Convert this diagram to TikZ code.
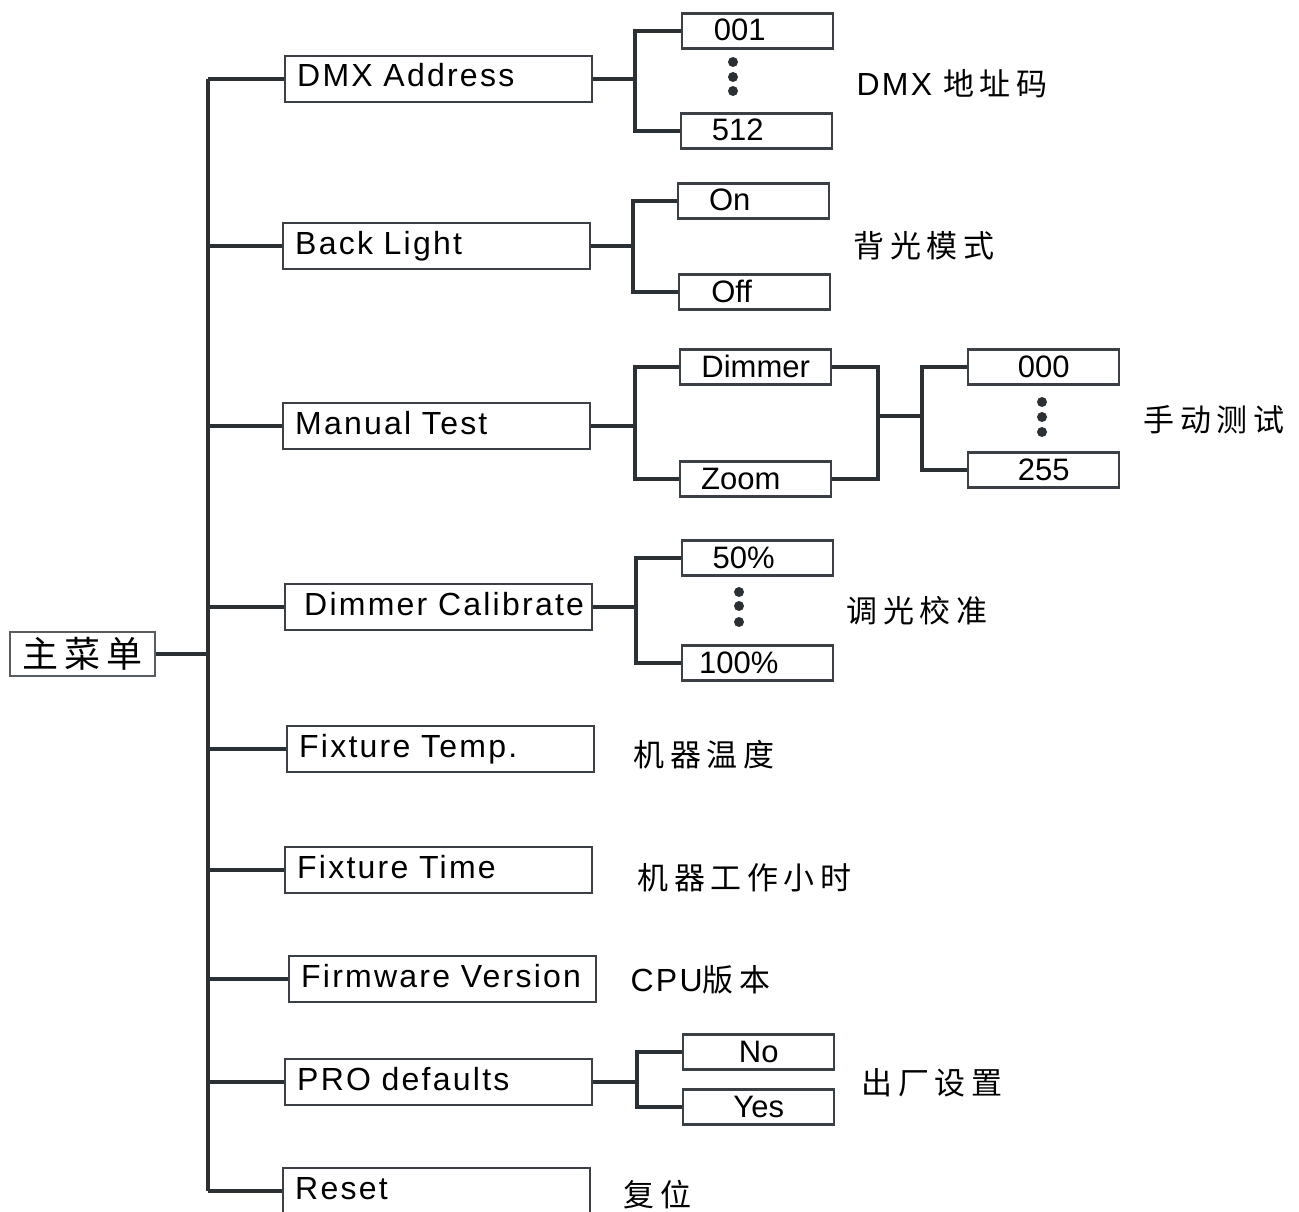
\documentclass[tikz,border=0pt]{standalone}
\usepackage{fontspec}
\setmainfont{Liberation Sans}
\newfontfamily\itemfont{Liberation Sans}[LetterSpace=7]
\newfontfamily\cjk{Noto Sans CJK SC}[LetterSpace=18]
\usetikzlibrary{positioning}
\definecolor{ink}{HTML}{2B3035}
\definecolor{frame}{HTML}{3A4045}

\begin{document}
\begin{tikzpicture}[x=1pt,y=-1pt,line width=3.2pt,draw=ink,
    menubox/.style={draw=frame,line width=2.4pt,anchor=west,minimum width=307pt,text width=283pt,align=left,
      inner xsep=12pt,inner ysep=7pt,text height=24pt,text depth=8pt,font=\itemfont\fontsize{32}{36}\selectfont},
    valbox/.style={draw=frame,line width=2.4pt,anchor=west,minimum width=151pt,inner ysep=3.5pt,
      text height=24pt,text depth=4pt,font=\fontsize{31}{36}\selectfont},
    note/.style={anchor=west,inner sep=0pt,font=\cjk\fontsize{31}{34}\selectfont}]
    \useasboundingbox (0,0) rectangle (1299,1212);

    % root
    \node[draw=frame!85,line width=1.3pt,minimum width=145pt,minimum height=44pt,
      font=\cjk\fontsize{36}{40}\selectfont] (main) at (82.5,654) {主菜单};

    % first level
    \node[menubox] (dmx)    at (284,79)   {DMX Address};
    \node[menubox] (blight) at (282,246)  {Back Light};
    \node[menubox] (mtest)  at (282,426)  {Manual Test};
    \node[menubox] (dcal)   at (284,607)  {\hspace{7pt}Dimmer Calibrate};
    \node[menubox] (ftemp)  at (286,749)  {Fixture Temp.};
    \node[menubox] (ftime)  at (284,870)  {Fixture Time};
    \node[menubox] (fw)     at (288,979)  {Firmware Version};
    \node[menubox] (pro)    at (284,1082) {PRO defaults};
    \node[menubox] (reset)  at (282,1191) {Reset};

    % trunk
    \coordinate (trunk) at (208,79);
    \draw (trunk) -- (trunk |- reset.west);
    \draw (main.east) -- (main.east -| trunk);
    \foreach \n in {dmx,blight,mtest,dcal,ftemp,ftime,fw,pro,reset}
      \draw (trunk |- \n.west) -- (\n.west);

    % DMX address
    \node[valbox] (a001) at (681,31)  {\hspace*{-36pt}001};
    \node[valbox] (a512) at (680,131) {\hspace*{-38pt}512};
    \coordinate (dmxfork) at (635,79);
    \draw (dmx.east) -- (dmxfork);
    \draw (a001.west) -| (dmxfork) |- (a512.west);
    \foreach \y in {62,77,91} \fill[ink] (733,\y) circle (5pt);
    \node[note] (dmxnote) at (855,84) {{\itemfont\fontsize{32}{36}\selectfont DMX }地址码};

    % back light
    \node[valbox] (on)  at (677,201) {\hspace*{-48pt}On};
    \node[valbox] (off) at (678,292) {\hspace*{-46pt}Off};
    \coordinate (blfork) at (633,246);
    \draw (blight.east) -- (blfork);
    \draw (on.west) -| (blfork) |- (off.west);
    \node[note] (blnote) at (852,246) {背光模式};

    % manual test
    \node[valbox] (dimmer) at (679,367) {Dimmer};
    \node[valbox] (zoom)   at (679,479) {\hspace*{-30pt}Zoom};
    \coordinate (mtfork) at (635,426);
    \draw (mtest.east) -- (mtfork);
    \draw (dimmer.west) -| (mtfork) |- (zoom.west);
    \coordinate (mtjoin) at (878,416);
    \draw (dimmer.east) -| (mtjoin) |- (zoom.east);
    \node[valbox] (m000) at (967,367) {000};
    \node[valbox] (m255) at (967,470) {255};
    \coordinate (valfork) at (922,416);
    \draw (mtjoin) -- (valfork);
    \draw (m000.west) -| (valfork) |- (m255.west);
    \foreach \y in {402,417,432} \fill[ink] (1042,\y) circle (5pt);
    \node[note] (mtnote) at (1142,420) {手动测试};

    % dimmer calibrate
    \node[valbox] (c50)  at (681,558) {\hspace*{-28pt}50\%};
    \node[valbox] (c100) at (681,663) {\hspace*{-38pt}100\%};
    \coordinate (dcfork) at (636,607);
    \draw (dcal.east) -- (dcfork);
    \draw (c50.west) -| (dcfork) |- (c100.west);
    \foreach \y in {592,606,622} \fill[ink] (739,\y) circle (5pt);
    \node[note] (dcnote) at (845,611) {调光校准};

    \node[note] (ftempnote) at (632,755) {机器温度};
    \node[note] (ftimenote) at (636,878) {机器工作小时};
    \node[note] (fwnote)    at (629,980) {{\itemfont\fontsize{32}{36}\selectfont CPU}版本};

    % PRO defaults
    \node[valbox] (no)  at (682,1052) {No};
    \node[valbox] (yes) at (682,1107) {Yes};
    \coordinate (profork) at (637,1082);
    \draw (pro.east) -- (profork);
    \draw (no.west) -| (profork) |- (yes.west);
    \node[note] (pronote) at (860,1083) {出厂设置};

    \node[note] (resetnote) at (622,1195) {复位};
  \end{tikzpicture}
\end{document}
